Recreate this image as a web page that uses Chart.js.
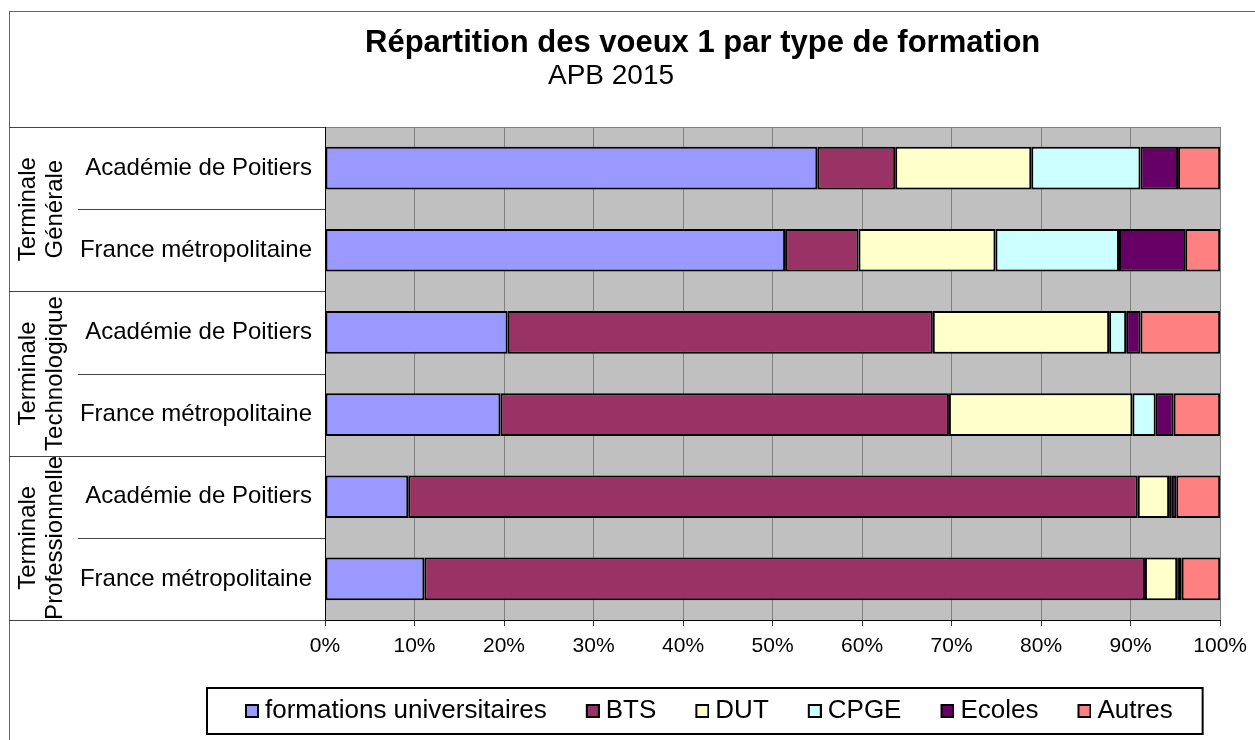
<!DOCTYPE html>
<html>
<head>
<meta charset="utf-8">
<script src="https://cdn.jsdelivr.net/npm/chart.js@4/dist/chart.umd.min.js"></script>
<style>
  body { margin: 0; background: #fff; }
</style>
</head>
<body>
<canvas id="voeux" width="1255" height="740"></canvas>
<script>
// Rows (top to bottom) and their groups
var rowLabels = ['Académie de Poitiers', 'France métropolitaine', 'Académie de Poitiers', 'France métropolitaine', 'Académie de Poitiers', 'France métropolitaine'];
var groupLabels = [['Terminale', 'Générale'], ['Terminale', 'Technologique'], ['Terminale', 'Professionnelle']];

// Share of first wishes per formation type, in %
var univ   = [55.0, 51.4, 20.4, 19.6,  9.3, 11.1];
var bts    = [ 8.7,  8.2, 47.5, 50.1, 81.5, 80.5];
var dut    = [15.2, 15.3, 19.7, 20.5,  3.5,  3.6];
var cpge   = [12.2, 13.8,  1.9,  2.6,  0.3,  0.2];
var ecoles = [ 4.2,  7.4,  1.6,  2.0,  0.5,  0.3];
var autres = [ 4.7,  3.9,  8.9,  5.2,  4.9,  4.3];

var seriesNames = ['formations universitaires', 'BTS', 'DUT', 'CPGE', 'Ecoles', 'Autres'];
var seriesData = [univ, bts, dut, cpge, ecoles, autres];
var seriesColors = ['#9999FF', '#993366', '#FFFFCC', '#CCFFFF', '#660066', '#FF8080'];

var FONT = "'Liberation Sans', Arial, sans-serif";

// small square legend marker, offset to the right inside a wider image
function legendMarker(color) {
    var c = document.createElement('canvas');
    c.width = 50;
    c.height = 14;
    var g = c.getContext('2d');
    g.fillStyle = color;
    g.fillRect(37, 1, 12, 12);
    g.strokeStyle = '#000';
    g.lineWidth = 2;
    g.strokeRect(37, 1, 12, 12);
    return c;
}

// frame, grey plot background, left-hand group labels, legend box
var decorations = {
    id: 'decorations',
    afterLayout: function (chart) {
        var lg = chart.legend;
        var pad = lg.options.labels.padding;
        var start = (lg.left + pad + lg.right - lg.lineWidths[0]) / 2;
        var dx = 216 - start;
        lg.left += dx;
        lg.right += dx;
        var h = lg.bottom - lg.top;
        lg.top = 688;
        lg.bottom = 688 + h;
        chart.titleBlock.left = 365;
    },
    beforeDraw: function (chart) {
        var ctx = chart.ctx, a = chart.chartArea;
        ctx.save();
        ctx.strokeStyle = '#666';
        ctx.lineWidth = 1;
        ctx.strokeRect(9.5, 11.5, 1400, 900);
        ctx.fillStyle = '#C0C0C0';
        ctx.fillRect(a.left, a.top, a.right - a.left, a.bottom - a.top);
        ctx.strokeStyle = '#808080';
        ctx.beginPath();
        ctx.moveTo(a.left, a.top + 0.5);
        ctx.lineTo(a.right, a.top + 0.5);
        ctx.stroke();
        ctx.restore();
    },
    afterDraw: function (chart) {
        var ctx = chart.ctx, a = chart.chartArea, y = chart.scales.y;
        var step = (a.bottom - a.top) / rowLabels.length;
        ctx.save();
        ctx.strokeStyle = '#444';
        ctx.lineWidth = 1;
        // category separators: full width between groups, short between rows
        for (var i = 0; i <= rowLabels.length; i++) {
            var py = Math.round(y.getPixelForValue(i) - step / 2) + 0.5;
            if (i === rowLabels.length) py = Math.round(a.bottom) + 0.5;
            ctx.beginPath();
            ctx.moveTo(i % 2 === 0 ? 9 : 78, py);
            ctx.lineTo(a.left, py);
            ctx.stroke();
        }
        // rotated group names
        ctx.fillStyle = '#000';
        ctx.font = '24px ' + FONT;
        ctx.textAlign = 'center';
        ctx.textBaseline = 'alphabetic';
        groupLabels.forEach(function (lines, g) {
            var cy = (y.getPixelForValue(g * 2) + y.getPixelForValue(g * 2 + 1)) / 2;
            lines.forEach(function (txt, k) {
                ctx.save();
                ctx.translate(35 + k * 27, cy);
                ctx.rotate(-Math.PI / 2);
                ctx.fillText(txt, 0, 0);
                ctx.restore();
            });
        });
        // legend frame
        var lg = chart.legend, hb = lg.legendHitBoxes;
        var last = hb[hb.length - 1];
        var x0 = hb[0].left + 29 - 38;
        var x1 = last.left + last.width + 30;
        ctx.strokeStyle = '#000';
        ctx.lineWidth = 2;
        ctx.strokeRect(x0, lg.top, x1 - x0, lg.bottom - lg.top);
        ctx.restore();
    }
};

var datasets = seriesNames.map(function (name, i) {
    return {
        label: name,
        data: seriesData[i],
        backgroundColor: seriesColors[i],
        borderColor: '#000',
        borderWidth: 2,
        borderSkipped: false,
        barPercentage: 0.52,
        categoryPercentage: 1
    };
});

var ctx = document.getElementById('voeux').getContext('2d');
new Chart(ctx, {
    type: 'bar',
    data: { labels: rowLabels, datasets: datasets },
    plugins: [decorations],
    options: {
        indexAxis: 'y',
        responsive: false,
        animation: false,
        layout: { padding: { left: 0, right: 33, top: 0, bottom: 0 } },
        scales: {
            x: {
                stacked: true,
                min: 0,
                max: 100,
                ticks: {
                    stepSize: 10,
                    padding: 8,
                    color: '#000',
                    font: { family: FONT, size: 21 },
                    callback: function (v) { return v + '%'; }
                },
                grid: { color: '#808080', tickColor: '#333', tickLength: 6 },
                border: { display: true, color: '#000', width: 1 },
                afterFit: function (scale) { scale.height = 74; }
            },
            y: {
                stacked: true,
                ticks: {
                    padding: 13,
                    color: '#000',
                    font: { family: FONT, size: 24 }
                },
                grid: { display: false, drawTicks: false },
                border: { display: true, color: '#000', width: 1 },
                afterFit: function (scale) { scale.width = 325; }
            }
        },
        plugins: {
            title: {
                display: true,
                text: 'Répartition des voeux 1 par type de formation',
                align: 'start',
                color: '#000',
                font: { family: FONT, size: 31, weight: 'bold', lineHeight: 1 },
                padding: { top: 28, bottom: 0 }
            },
            subtitle: {
                display: true,
                text: 'APB 2015',
                color: '#000',
                font: { family: FONT, size: 28, lineHeight: 1 },
                padding: { top: 3, bottom: 37 }
            },
            legend: {
                position: 'bottom',
                labels: {
                    usePointStyle: true,
                    pointStyleWidth: 36,
                    padding: 10,
                    color: '#000',
                    font: { family: FONT, size: 26 },
                    generateLabels: function (chart) {
                        var items = Chart.defaults.plugins.legend.labels.generateLabels(chart);
                        items.forEach(function (it, i) { it.pointStyle = legendMarker(seriesColors[i]); });
                        return items;
                    }
                }
            },
            tooltip: { enabled: false }
        }
    }
});
</script>
</body>
</html>
